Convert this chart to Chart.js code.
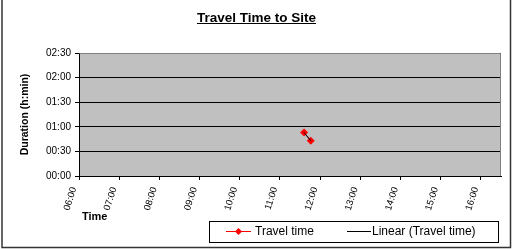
<!DOCTYPE html>
<html>
<head>
<meta charset="utf-8">
<script src="https://cdn.jsdelivr.net/npm/chart.js@4.4.1/dist/chart.umd.min.js"></script>
<style>
  html, body { margin: 0; padding: 0; background: #fff; overflow: hidden; }
  #wrap { width: 513px; height: 249px; }
</style>
</head>
<body>
<div id="wrap"><canvas id="chart" width="513" height="249"></canvas></div>
<script>
const chartTitle = 'Travel Time to Site';
const xAxisTitle = 'Time';
const yAxisTitle = 'Duration (h:min)';
const seriesNames = ['Travel time', 'Linear (Travel time)'];

// departure time of day -> travel duration (h:min)
const departTimes = ['11:36', '11:46'];
const travelDurations = ['00:53', '00:43'];
// trend line (two points, so it joins them)
const trendTimes = ['11:36', '11:46'];
const trendDurations = ['00:53', '00:43'];

const xTickLabels = ['06:00', '07:00', '08:00', '09:00', '10:00', '11:00', '12:00', '13:00', '14:00', '15:00', '16:00'];
const yTickLabels = ['00:00', '00:30', '01:00', '01:30', '02:00', '02:30'];
const xAxisEnd = '16:30';

const FONT = 'Liberation Sans, Arial, sans-serif';

function toMin(s) {
  const [h, m] = s.split(':').map(Number);
  return h * 60 + m;
}
function fmt(v) {
  const h = Math.floor(v / 60), m = Math.round(v % 60);
  return String(h).padStart(2, '0') + ':' + String(m).padStart(2, '0');
}

const decor = {
  id: 'decor',
  beforeDraw(chart) {
    const ctx = chart.ctx, a = chart.chartArea;
    ctx.save();
    ctx.fillStyle = '#fff';
    ctx.fillRect(0, 0, chart.width, chart.height);
    // outer frame
    ctx.strokeStyle = '#333';
    ctx.lineWidth = 1.5;
    ctx.strokeRect(2, -2, 508.5, 249.5);
    ctx.fillStyle = '#c0c0c0';
    ctx.fillRect(a.left, a.top, a.right - a.left, a.bottom - a.top);
    ctx.restore();
  },
  beforeDatasetsDraw(chart) {
    const ctx = chart.ctx, a = chart.chartArea;
    ctx.save();
    ctx.strokeStyle = '#808080';
    ctx.lineWidth = 1;
    ctx.beginPath();
    ctx.moveTo(Math.round(a.left) + 0.5, Math.round(a.top) + 0.5);
    ctx.lineTo(Math.round(a.right) - 0.5, Math.round(a.top) + 0.5);
    ctx.lineTo(Math.round(a.right) - 0.5, Math.round(a.bottom));
    ctx.stroke();
    ctx.restore();
  },
  afterDraw(chart) {
    const ctx = chart.ctx, xs = chart.scales.x;
    ctx.save();
    ctx.fillStyle = '#000';
    ctx.strokeStyle = '#000';

    // slanted x tick labels, reading upwards, ending just left of the tick
    ctx.font = '9.5px ' + FONT;
    ctx.textAlign = 'right';
    ctx.textBaseline = 'middle';
    xs.ticks.forEach(t => {
      ctx.save();
      ctx.translate(xs.getPixelForValue(t.value) - 5, xs.top + 11.5);
      ctx.rotate(-72 * Math.PI / 180);
      ctx.fillText(fmt(t.value), 0, 0);
      ctx.restore();
    });

    // title, underlined
    ctx.font = 'bold 13.5px ' + FONT;
    ctx.textAlign = 'center';
    ctx.textBaseline = 'alphabetic';
    ctx.fillText(chartTitle, 256.5, 22);
    const tw = ctx.measureText(chartTitle).width;
    ctx.lineWidth = 1;
    ctx.beginPath();
    ctx.moveTo(256.5 - tw / 2, 23.5);
    ctx.lineTo(256.5 + tw / 2, 23.5);
    ctx.stroke();

    // y axis title
    ctx.font = 'bold 10.5px ' + FONT;
    ctx.textBaseline = 'middle';
    ctx.save();
    ctx.translate(25, (chart.chartArea.top + chart.chartArea.bottom) / 2);
    ctx.rotate(-Math.PI / 2);
    ctx.fillText(yAxisTitle, 0, 0);
    ctx.restore();

    // x axis title
    ctx.font = 'bold 11px ' + FONT;
    ctx.textAlign = 'left';
    ctx.fillText(xAxisTitle, 82, 217);

    // legend
    ctx.fillStyle = '#fff';
    ctx.fillRect(209.5, 221.5, 289, 21);
    ctx.lineWidth = 1;
    ctx.strokeRect(209.5, 221.5, 289, 21);
    const ly = 231.5;
    const ds = chart.data.datasets;
    ctx.strokeStyle = ds[0].borderColor;
    ctx.beginPath(); ctx.moveTo(226, ly); ctx.lineTo(251, ly); ctx.stroke();
    ctx.fillStyle = ds[0].pointBackgroundColor;
    ctx.beginPath();
    ctx.moveTo(238.5, ly - 3.5); ctx.lineTo(242, ly); ctx.lineTo(238.5, ly + 3.5); ctx.lineTo(235, ly);
    ctx.closePath(); ctx.fill();
    ctx.strokeStyle = ds[1].borderColor;
    ctx.beginPath(); ctx.moveTo(347, ly); ctx.lineTo(371, ly); ctx.stroke();
    ctx.fillStyle = '#000';
    ctx.font = '12px ' + FONT;
    ctx.textBaseline = 'middle';
    ctx.fillText(ds[0].label, 255, ly + 0.5);
    ctx.fillText(ds[1].label, 372, ly + 0.5);
    ctx.restore();
  }
};

new Chart(document.getElementById('chart'), {
  type: 'scatter',
  data: {
    datasets: [
      {
        label: seriesNames[0],
        data: departTimes.map((t, i) => ({ x: toMin(t), y: toMin(travelDurations[i]) })),
        showLine: true,
        borderColor: '#ff0000',
        borderWidth: 1,
        pointStyle: 'rectRot',
        pointRadius: 4,
        pointBackgroundColor: '#ff0000',
        pointBorderColor: '#ff0000',
        pointBorderWidth: 0,
        order: 1
      },
      {
        label: seriesNames[1],
        data: trendTimes.map((t, i) => ({ x: toMin(t), y: toMin(trendDurations[i]) })),
        showLine: true,
        borderColor: '#000000',
        borderWidth: 1,
        pointRadius: 0,
        order: 0
      }
    ]
  },
  options: {
    responsive: false,
    devicePixelRatio: 1,
    animation: false,
    layout: { padding: { left: 0, top: 53, right: 12, bottom: 0 } },
    plugins: { legend: { display: false }, title: { display: false }, tooltip: { enabled: false } },
    scales: {
      x: {
        type: 'linear',
        min: toMin(xTickLabels[0]),
        max: toMin(xAxisEnd),
        afterBuildTicks: s => { s.ticks = xTickLabels.map(t => ({ value: toMin(t) })); },
        afterFit: s => { s.height = 73; },
        grid: { drawOnChartArea: false, tickLength: 4, color: '#000' },
        border: { color: '#000', width: 1 },
        ticks: { display: false }
      },
      y: {
        min: toMin(yTickLabels[0]),
        max: toMin(yTickLabels[yTickLabels.length - 1]),
        afterBuildTicks: s => { s.ticks = yTickLabels.map(t => ({ value: toMin(t) })); },
        afterFit: s => { s.width = 79; },
        grid: { tickLength: 4, color: '#000' },
        border: { color: '#000', width: 1 },
        ticks: {
          padding: 4, color: '#000', font: { family: FONT, size: 10 },
          callback: v => fmt(v)
        }
      }
    }
  },
  plugins: [decor]
});
</script>
</body>
</html>
